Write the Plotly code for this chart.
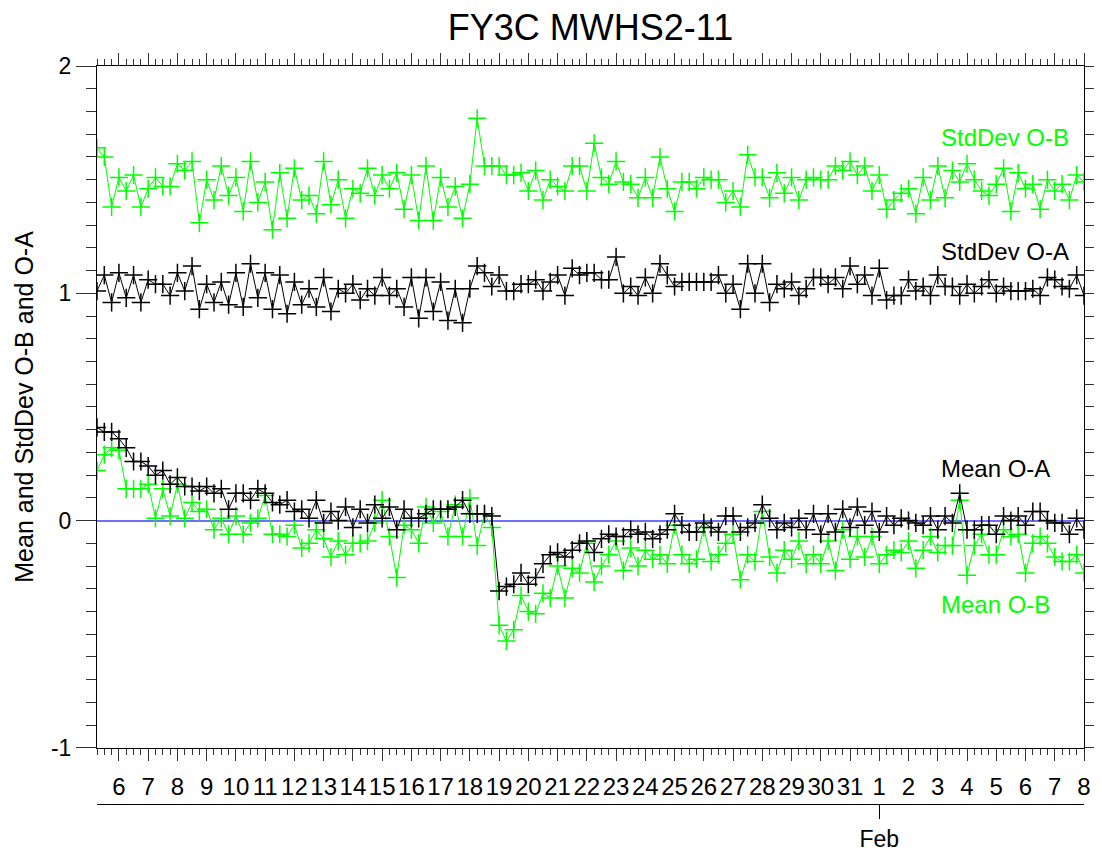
import pandas as pd
import plotly.graph_objects as go

# ---- data (6-hourly, starting 2018-01-05 06:00) ----
start_time = "2018-01-05 06:00"
n_points = 136
times = pd.date_range(start_time, periods=n_points, freq="6h")

stddev_ob = [
    1.64, 1.60, 1.38, 1.51, 1.45, 1.52, 1.38, 1.46, 1.51, 1.47,
    1.47, 1.57, 1.54, 1.58, 1.31, 1.50, 1.41, 1.56, 1.43, 1.51,
    1.36, 1.58, 1.40, 1.49, 1.28, 1.53, 1.33, 1.55, 1.41, 1.43,
    1.35, 1.58, 1.39, 1.50, 1.33, 1.46, 1.44, 1.55, 1.43, 1.52,
    1.46, 1.53, 1.37, 1.52, 1.32, 1.56, 1.32, 1.51, 1.38, 1.47,
    1.33, 1.48, 1.77, 1.56, 1.56, 1.56, 1.52, 1.52, 1.53, 1.45,
    1.54, 1.41, 1.50, 1.47, 1.45, 1.56, 1.56, 1.45, 1.66, 1.51,
    1.48, 1.58, 1.49, 1.48, 1.42, 1.51, 1.42, 1.60, 1.46, 1.36,
    1.49, 1.49, 1.46, 1.51, 1.50, 1.50, 1.40, 1.45, 1.38, 1.61,
    1.51, 1.51, 1.42, 1.53, 1.44, 1.51, 1.41, 1.50, 1.51, 1.50,
    1.50, 1.56, 1.54, 1.58, 1.52, 1.56, 1.45, 1.52, 1.37, 1.41,
    1.44, 1.46, 1.35, 1.51, 1.41, 1.56, 1.42, 1.54, 1.49, 1.57,
    1.50, 1.45, 1.43, 1.48, 1.55, 1.36, 1.53, 1.46, 1.48, 1.37,
    1.50, 1.45, 1.48, 1.41, 1.52, 1.49,
]

stddev_oa = [
    1.01, 1.08, 0.96, 1.09, 0.98, 1.08, 0.96, 1.06, 1.04, 1.04,
    0.99, 1.09, 1.01, 1.12, 0.93, 1.04, 0.96, 1.05, 0.95, 1.09,
    0.94, 1.13, 0.98, 1.09, 0.93, 1.08, 0.91, 1.05, 0.95, 1.02,
    0.94, 1.07, 0.92, 1.02, 1.00, 1.04, 0.97, 1.02, 0.99, 1.07,
    0.99, 1.02, 0.94, 1.07, 0.89, 1.07, 0.92, 1.05, 0.88, 1.02,
    0.87, 1.02, 1.12, 1.09, 1.03, 1.08, 1.01, 1.01, 1.04, 1.04,
    1.06, 1.01, 1.05, 1.08, 0.99, 1.11, 1.08, 1.09, 1.09, 1.06,
    1.06, 1.16, 1.00, 1.03, 0.99, 1.07, 1.00, 1.13, 1.08, 1.03,
    1.05, 1.05, 1.05, 1.05, 1.05, 1.08, 1.00, 1.04, 0.93, 1.13,
    1.00, 1.13, 0.96, 1.04, 1.02, 1.05, 0.99, 1.02, 1.07, 1.07,
    1.04, 1.07, 1.02, 1.12, 1.04, 1.08, 0.99, 1.11, 0.97, 0.99,
    0.99, 1.06, 1.01, 1.03, 0.99, 1.08, 1.03, 1.03, 0.99, 1.04,
    1.00, 1.03, 1.06, 1.00, 1.03, 1.01, 1.01, 1.01, 1.02, 0.99,
    1.07, 1.06, 1.03, 1.02, 1.08, 0.99,
]

mean_oa = [
    0.41, 0.39, 0.39, 0.36, 0.32, 0.26, 0.26, 0.24, 0.20, 0.22,
    0.16, 0.19, 0.15, 0.15, 0.13, 0.15, 0.12, 0.14, 0.05, 0.12,
    0.12, 0.09, 0.14, 0.12, 0.08, 0.07, 0.09, 0.04, 0.05, 0.01,
    0.09, -0.01, 0.04, 0.00, 0.06, -0.03, 0.05, -0.01, 0.07, 0.01,
    0.06, -0.04, 0.05, 0.01, 0.01, 0.03, 0.05, 0.05, 0.05, 0.06,
    0.09, 0.03, 0.03, 0.03, 0.02, -0.31, -0.29, -0.28, -0.23, -0.28,
    -0.25, -0.19, -0.15, -0.14, -0.16, -0.13, -0.10, -0.09, -0.14, -0.08,
    -0.06, -0.07, -0.07, -0.04, -0.06, -0.05, -0.08, -0.06, -0.04, 0.03,
    -0.02, -0.05, -0.05, -0.01, -0.03, -0.05, 0.02, 0.02, -0.05, -0.03,
    -0.01, 0.07, 0.01, -0.04, -0.01, -0.03, 0.01, -0.04, 0.03, -0.06,
    0.03, -0.05, 0.05, -0.03, 0.06, -0.02, 0.04, -0.05, 0.02, -0.02,
    0.01, 0.00, -0.01, -0.02, 0.02, -0.04, 0.02, -0.01, 0.12, -0.04,
    -0.04, -0.02, -0.02, -0.06, 0.02, 0.00, 0.02, -0.02, 0.04, 0.04,
    0.00, -0.01, -0.01, -0.06, 0.01, -0.04,
]

mean_ob = [
    0.22, 0.29, 0.32, 0.31, 0.14, 0.14, 0.14, 0.16, 0.01, 0.14,
    0.02, 0.16, 0.01, 0.08, 0.04, 0.05, -0.04, 0.01, -0.06, 0.02,
    -0.06, -0.01, 0.01, 0.11, -0.06, -0.06, -0.07, -0.02, -0.12, -0.10,
    -0.04, -0.08, -0.16, -0.09, -0.15, -0.10, -0.10, -0.09, -0.01, 0.09,
    -0.07, -0.25, -0.02, -0.04, -0.10, 0.06, -0.01, 0.04, -0.07, 0.07,
    -0.07, 0.10, -0.11, 0.03, -0.03, -0.46, -0.53, -0.48, -0.33, -0.40,
    -0.41, -0.32, -0.34, -0.20, -0.34, -0.21, -0.23, -0.10, -0.27, -0.20,
    -0.15, -0.09, -0.22, -0.12, -0.20, -0.13, -0.17, -0.15, -0.19, -0.02,
    -0.15, -0.19, -0.17, -0.03, -0.18, -0.15, -0.10, -0.06, -0.26, -0.15,
    -0.18, 0.04, -0.16, -0.23, -0.13, -0.17, -0.09, -0.19, -0.15, -0.19,
    -0.09, -0.22, -0.04, -0.17, -0.07, -0.16, -0.07, -0.19, -0.15, -0.13,
    -0.14, -0.09, -0.21, -0.13, -0.07, -0.14, -0.11, -0.11, 0.09, -0.24,
    -0.11, -0.06, -0.15, -0.15, -0.04, -0.07, -0.06, -0.23, -0.10, -0.07,
    -0.10, -0.16, -0.18, -0.18, -0.15, -0.23,
]

x_range = ["2018-01-05 06:00", "2018-02-08 00:00"]
y_range = [-1, 2]
y_tick_vals = [-1, 0, 1, 2]
y_tick_text = ["-1", "0", "1", "2"]
month_tick_vals = ["2018-02-01"]
month_tick_text = ["Feb"]

GREEN = "#00ff00"
BLACK = "#000000"
FONT = "Liberation Sans, Arial, sans-serif"

fig = go.Figure()

def add_series(y, color):
    fig.add_trace(go.Scatter(
        x=times, y=y, mode="lines+markers",
        line=dict(color=color, width=1),
        marker=dict(symbol="cross-thin", size=13, line=dict(color=color, width=1.5)),
        showlegend=False, hoverinfo="x+y",
    ))

add_series(stddev_ob, GREEN)
add_series(stddev_oa, BLACK)
add_series(mean_ob, GREEN)
add_series(mean_oa, BLACK)

# helper empty traces so the extra axes get drawn
fig.add_trace(go.Scatter(x=[], y=[], xaxis="x2", yaxis="y", showlegend=False))
fig.add_trace(go.Scatter(x=[], y=[], xaxis="x", yaxis="y2", showlegend=False))

W, H = 1102, 861
ml, mr, mt, mb = 97, 9, 66, 45
plot_h = H - mt - mb
y_dom0 = (816 - 759) / plot_h

fig.update_layout(
    width=W, height=H,
    margin=dict(l=ml, r=mr, t=mt, b=mb, pad=0),
    paper_bgcolor="white", plot_bgcolor="white",
    font=dict(family=FONT, color="black", size=24),
    title=dict(text="FY3C MWHS2-11", font=dict(size=36, family=FONT, color="black"),
               x=0.5, xref="paper", xanchor="center",
               y=1 - 27 / H, yref="container", yanchor="middle"),
    xaxis=dict(
        type="date", range=x_range, showline=True, linecolor="black", linewidth=1,
        mirror="ticks", ticks="outside", ticklen=12, tickwidth=1, tickcolor="#333",
        tick0="2018-01-06", dtick=86400000, tickformat="%-d",
        tickfont=dict(size=24), ticklabelstandoff=5, showgrid=False, zeroline=False,
        minor=dict(dtick=21600000, tick0="2018-01-06", ticks="outside", ticklen=6,
                   tickwidth=1, tickcolor="#333", showgrid=False),
        anchor="y",
    ),
    xaxis2=dict(
        type="date", range=x_range, overlaying="x", anchor="free", position=0,
        side="bottom", showline=True, linecolor="black", linewidth=1,
        tickmode="array", tickvals=month_tick_vals, ticktext=month_tick_text,
        ticks="outside", ticklen=14, tickwidth=1, tickcolor="black",
        tickfont=dict(size=23), showgrid=False, zeroline=False,
    ),
    yaxis=dict(
        range=y_range, domain=[y_dom0, 1], showline=True, linecolor="black", linewidth=1,
        ticks="outside", ticklen=20, tickwidth=1, tickcolor="#333",
        tickmode="array", tickvals=y_tick_vals, ticktext=y_tick_text,
        tickfont=dict(size=23), showgrid=False,
        zeroline=True, zerolinecolor="#6f6fff", zerolinewidth=1.5,
        minor=dict(tickmode="linear", tick0=0, dtick=0.1, ticks="outside", ticklen=10,
                   tickwidth=1, tickcolor="#333", showgrid=False),
        title=dict(text="Mean and StdDev O-B and O-A", font=dict(size=25), standoff=10),
        anchor="x",
    ),
    yaxis2=dict(
        range=y_range, overlaying="y", side="right", anchor="x", showline=True,
        linecolor="black", linewidth=1, ticks="outside", ticklen=9, tickwidth=1,
        tickcolor="#333", dtick=0.1, tick0=0, showticklabels=False,
        showgrid=False, zeroline=False,
    ),
)

labels = [
    ("StdDev O-B", 1.686, GREEN),
    ("StdDev O-A", 1.183, BLACK),
    ("Mean O-A", 0.231, BLACK),
    ("Mean O-B", -0.371, GREEN),
]
for text, yv, col in labels:
    fig.add_annotation(text=text, xref="paper", x=(947 - ml) / (W - ml - mr), xanchor="left",
                       yref="y", y=yv, yanchor="middle", showarrow=False,
                       font=dict(size=24, color=col, family=FONT))

fig.write_html(
    "out.html",
    config={"displayModeBar": False},
    post_script="document.body.style.margin='0';document.body.style.overflow='hidden';"
                "document.documentElement.style.overflow='hidden';",
)
